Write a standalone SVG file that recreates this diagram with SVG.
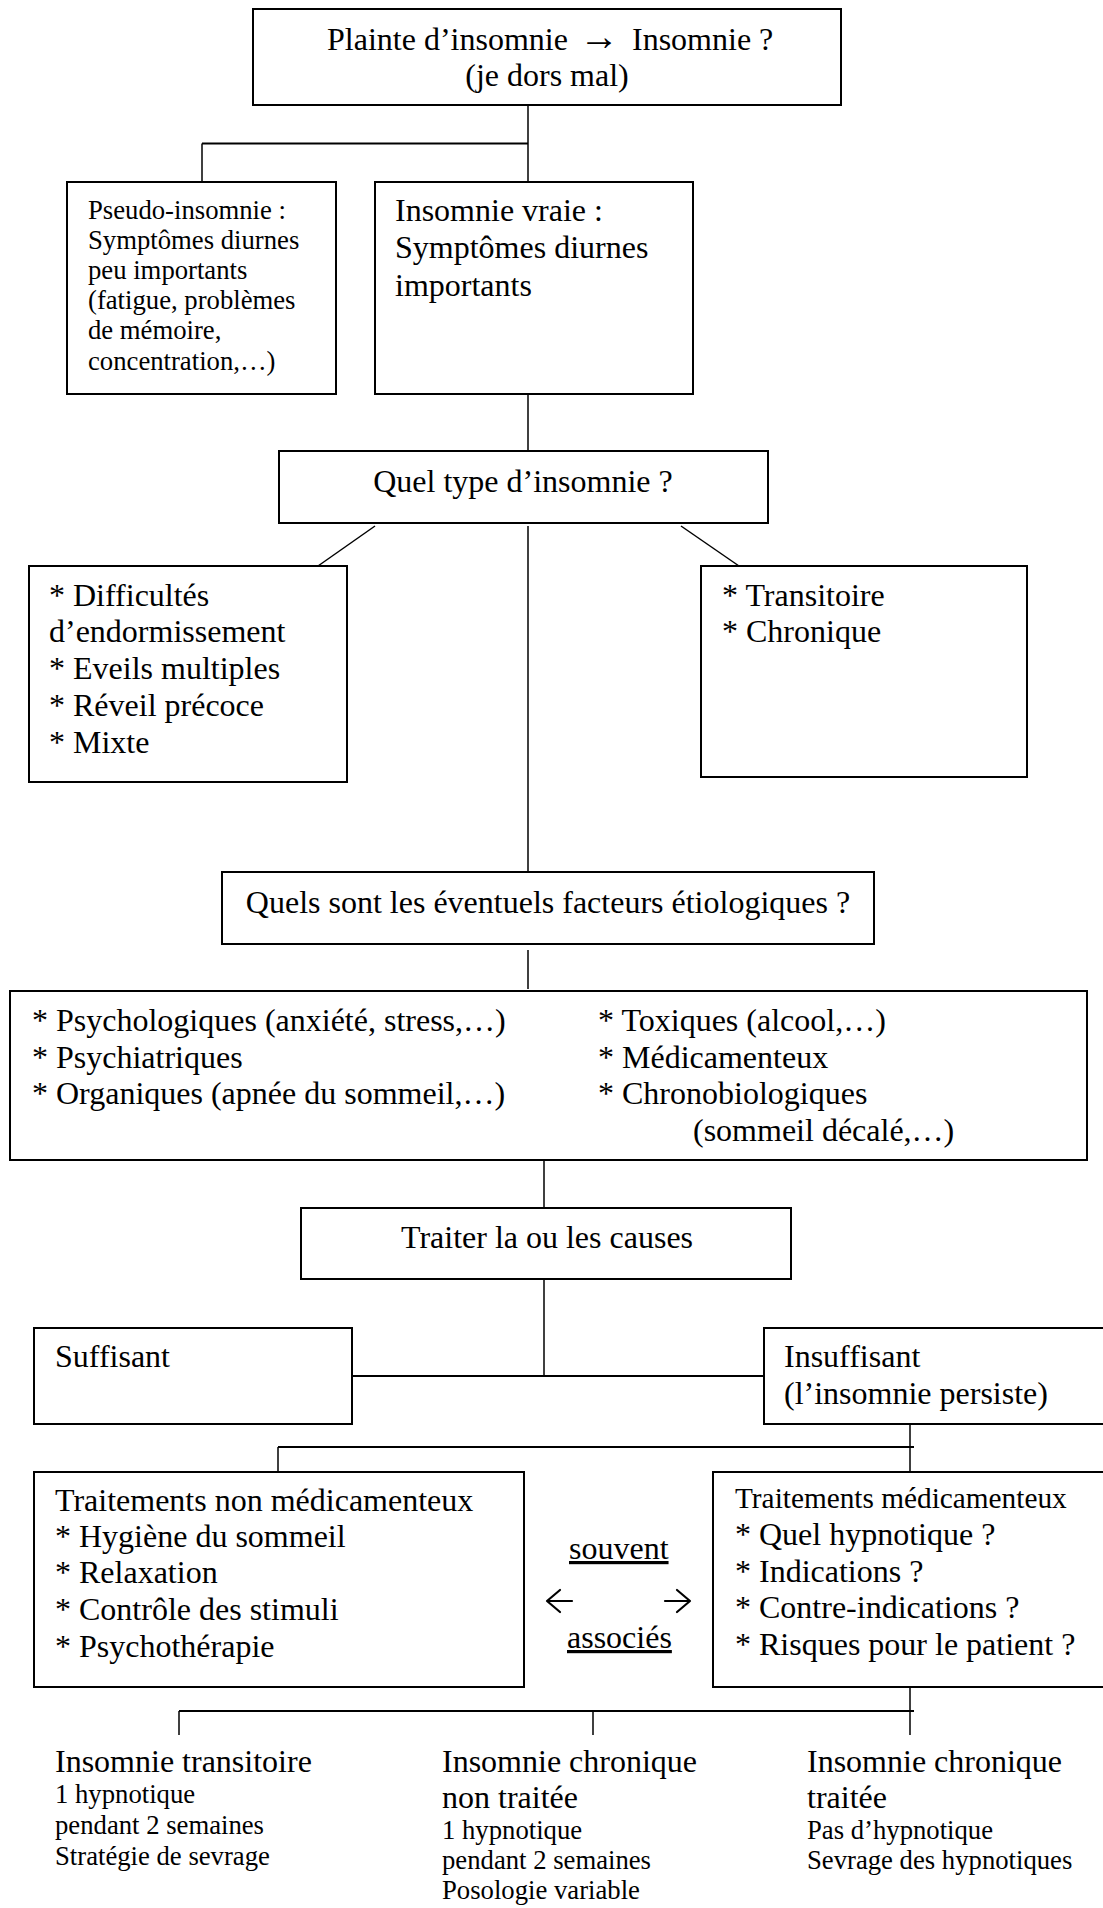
<svg xmlns="http://www.w3.org/2000/svg" width="1103" height="1908" viewBox="0 0 1103 1908">
<style>
  .box { fill: #ffffff; stroke: #000000; stroke-width: 2; }
  .ln { fill: none; stroke: #000000; stroke-width: 1.5; }
  .lnb { fill: none; stroke: #000000; stroke-width: 2; }
  .arrow { fill: none; stroke: #000000; stroke-width: 2.2; stroke-linecap: round; stroke-linejoin: round; }
  text { font-family: "Liberation Serif", "Times New Roman", serif; fill: #000000; }
  .t { font-size: 32px; }
  .s { font-size: 26.7px; }
  .m { font-size: 29.3px; }
  .c { text-anchor: middle; }
</style>
<rect width="1103" height="1908" fill="#ffffff"/>

<g id="connectors">
  <path class="ln" d="M528,105 V182"/>
  <path class="lnb" d="M202,143.5 H528"/>
  <path class="ln" d="M202,143.5 V182"/>
  <path class="ln" d="M528,394 V451"/>
  <path class="ln" d="M375,526 L318,566"/>
  <path class="ln" d="M528,526 V873"/>
  <path class="ln" d="M681,526 L739,566"/>
  <path class="ln" d="M528,950 V989"/>
  <path class="ln" d="M544,1160 V1208"/>
  <path class="ln" d="M544,1279 V1376"/>
  <path class="lnb" d="M352,1376 H765"/>
  <path class="ln" d="M910,1424 V1472"/>
  <path class="lnb" d="M278,1447 H914"/>
  <path class="ln" d="M278,1447 V1472"/>
  <path class="ln" d="M910,1687 V1735"/>
  <path class="lnb" d="M179,1711 H914"/>
  <path class="ln" d="M179,1711 V1735"/>
  <path class="ln" d="M593,1711 V1735"/>
</g>

<g id="plainte">
  <rect class="box" x="253" y="9" width="588" height="96"/>
  <text class="t" y="50"><tspan x="327">Plainte d’insomnie</tspan><tspan x="579" font-size="40">→</tspan><tspan x="632">Insomnie ?</tspan></text>
  <text class="t c" x="547" y="86">(je dors mal)</text>
</g>

<g id="pseudo">
  <rect class="box" x="67" y="182" width="269" height="212"/>
  <text class="s" x="88" y="219">Pseudo-insomnie :</text>
  <text class="s" x="88" y="249">Symptômes diurnes</text>
  <text class="s" x="88" y="279">peu importants</text>
  <text class="s" x="88" y="309">(fatigue, problèmes</text>
  <text class="s" x="88" y="339">de mémoire,</text>
  <text class="s" x="88" y="370">concentration,…)</text>
</g>

<g id="vraie">
  <rect class="box" x="375" y="182" width="318" height="212"/>
  <text class="t" x="395" y="221">Insomnie vraie :</text>
  <text class="t" x="395" y="258">Symptômes diurnes</text>
  <text class="t" x="395" y="296">importants</text>
</g>

<g id="type">
  <rect class="box" x="279" y="451" width="489" height="72"/>
  <text class="t c" x="523" y="492">Quel type d’insomnie ?</text>
</g>

<g id="difficultes">
  <rect class="box" x="29" y="566" width="318" height="216"/>
  <text class="t" x="49" y="606">* Difficultés</text>
  <text class="t" x="49" y="642">d’endormissement</text>
  <text class="t" x="49" y="679">* Eveils multiples</text>
  <text class="t" x="49" y="716">* Réveil précoce</text>
  <text class="t" x="49" y="753">* Mixte</text>
</g>

<g id="duree">
  <rect class="box" x="701" y="566" width="326" height="211"/>
  <text class="t" x="722" y="606">* Transitoire</text>
  <text class="t" x="722" y="642">* Chronique</text>
</g>

<g id="question-facteurs">
  <rect class="box" x="222" y="872" width="652" height="72"/>
  <text class="t c" x="548" y="913">Quels sont les éventuels facteurs étiologiques ?</text>
</g>

<g id="facteurs">
  <rect class="box" x="10" y="991" width="1077" height="169"/>
  <text class="t" x="32" y="1031">* Psychologiques (anxiété, stress,…)</text>
  <text class="t" x="32" y="1068">* Psychiatriques</text>
  <text class="t" x="32" y="1104">* Organiques (apnée du sommeil,…)</text>
  <text class="t" x="598" y="1031">* Toxiques (alcool,…)</text>
  <text class="t" x="598" y="1068">* Médicamenteux</text>
  <text class="t" x="598" y="1104">* Chronobiologiques</text>
  <text class="t" x="693" y="1141">(sommeil décalé,…)</text>
</g>

<g id="traiter">
  <rect class="box" x="301" y="1208" width="490" height="71"/>
  <text class="t c" x="547" y="1248">Traiter la ou les causes</text>
</g>

<g id="suffisant">
  <rect class="box" x="34" y="1328" width="318" height="96"/>
  <text class="t" x="55" y="1367">Suffisant</text>
</g>

<g id="insuffisant">
  <rect class="box" x="764" y="1328" width="345" height="96"/>
  <text class="t" x="784" y="1367">Insuffisant</text>
  <text class="t" x="784" y="1404">(l’insomnie persiste)</text>
</g>

<g id="non-medicamenteux">
  <rect class="box" x="34" y="1472" width="490" height="215"/>
  <text class="t" x="55" y="1511">Traitements non médicamenteux</text>
  <text class="t" x="55" y="1547">* Hygiène du sommeil</text>
  <text class="t" x="55" y="1583">* Relaxation</text>
  <text class="t" x="55" y="1620">* Contrôle des stimuli</text>
  <text class="t" x="55" y="1657">* Psychothérapie</text>
</g>

<g id="association">
  <text class="t" x="569" y="1559" text-decoration="underline">souvent</text>
  <path class="arrow" d="M572,1601 H547 M560,1590 L547,1601 L560,1612"/>
  <path class="arrow" d="M665,1601 H690 M677,1590 L690,1601 L677,1612"/>
  <text class="t" x="567" y="1648" text-decoration="underline">associés</text>
</g>

<g id="medicamenteux">
  <rect class="box" x="713" y="1472" width="396" height="215"/>
  <text class="m" x="735" y="1508">Traitements médicamenteux</text>
  <text class="t" x="735" y="1545">* Quel hypnotique ?</text>
  <text class="t" x="735" y="1582">* Indications ?</text>
  <text class="t" x="735" y="1618">* Contre-indications ?</text>
  <text class="t" x="735" y="1655">* Risques pour le patient ?</text>
</g>

<g id="transitoire">
  <text class="t" x="55" y="1772">Insomnie transitoire</text>
  <text class="s" x="55" y="1803">1 hypnotique</text>
  <text class="s" x="55" y="1834">pendant 2 semaines</text>
  <text class="s" x="55" y="1865">Stratégie de sevrage</text>
</g>

<g id="chronique-non-traitee">
  <text class="t" x="442" y="1772">Insomnie chronique</text>
  <text class="t" x="442" y="1808">non traitée</text>
  <text class="s" x="442" y="1839">1 hypnotique</text>
  <text class="s" x="442" y="1869">pendant 2 semaines</text>
  <text class="s" x="442" y="1899">Posologie variable</text>
</g>

<g id="chronique-traitee">
  <text class="t" x="807" y="1772">Insomnie chronique</text>
  <text class="t" x="807" y="1808">traitée</text>
  <text class="s" x="807" y="1839">Pas d’hypnotique</text>
  <text class="s" x="807" y="1869">Sevrage des hypnotiques</text>
</g>
</svg>
